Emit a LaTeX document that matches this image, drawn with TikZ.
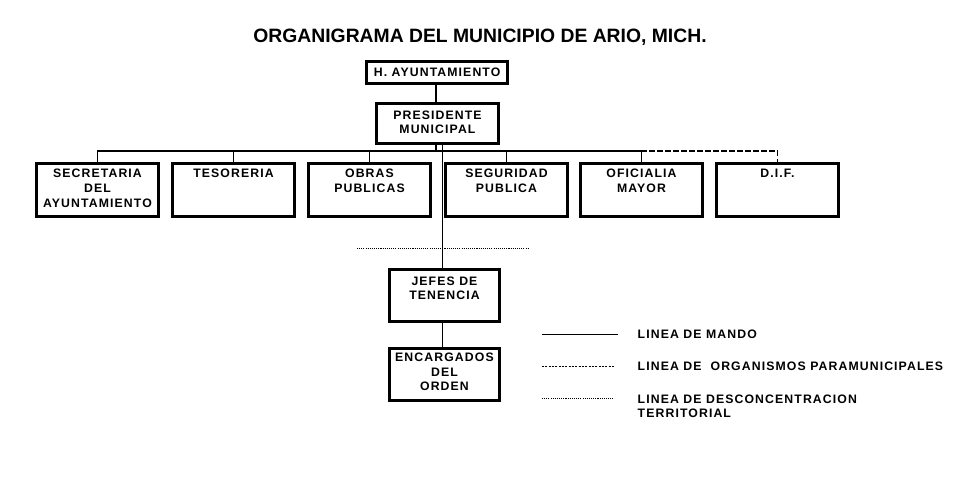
\documentclass[tikz,border=0pt]{standalone}
\usepackage{fontspec}
\setmainfont{Liberation Sans}
\newfontfamily\spaced[LetterSpace=9]{Liberation Sans}
\usetikzlibrary{positioning}

\begin{document}
\begin{tikzpicture}[
    x=0.75pt, y=-0.75pt,
    unit/.style={draw, line width=2.2pt, anchor=north west, inner sep=0pt},
    txt/.style={font=\spaced\bfseries\fontsize{9.2}{11}\selectfont, align=center},
    mando/.style={line width=0.6pt},
    para/.style={line width=1.2pt, dash pattern=on 4pt off 2pt},
    terr/.style={line width=0.6pt, dash pattern=on 0.8pt off 0.8pt},
  ]
  \useasboundingbox (0,0) rectangle (959,479);

  % ---- Title ----
  \node[font=\bfseries\fontsize{14.5}{16}\selectfont] (title) at (480,37)
    {ORGANIGRAMA DEL MUNICIPIO DE ARIO, MICH.};

  % ---- Top ----
  \node[unit, minimum width=106pt, minimum height=16.5pt] (ayto) at (365,60) {};
  \node[txt, anchor=center] (aytot) at (ayto.center) {H. AYUNTAMIENTO};
  \node[unit, minimum width=91.5pt, minimum height=30pt] (pres) at (375,102) {};
  \node[txt, anchor=north] (prest) at ([yshift=-3pt]pres.north) {PRESIDENTE\\MUNICIPAL};
  \draw[line width=1.2pt] (ayto.south -| 436,0) -- (pres.north -| 436,0);

  % ---- Dependencies ----
  \foreach \n/\x/\t in {secr/35/{SECRETARIA\\DEL\\AYUNTAMIENTO}, teso/171/TESORERIA,
      obras/307/{OBRAS\\PUBLICAS}, segu/444/{SEGURIDAD\\PUBLICA},
      ofic/579/{OFICIALIA\\MAYOR}, dif/715/{D.I.F.}} {
    \node[unit, minimum width=91.5pt, minimum height=40pt] (\n) at (\x,162) {};
    \node[txt, anchor=north] (\n t) at ([yshift=-2pt]\n.north) {\t};
  }
  \coordinate (bar) at (0,151);
  \draw[line width=1.2pt] (pres.south -| 436,0) -- (bar -| 436,0);
  \draw[line width=1.2pt] (bar -| secr.north) -- (bar -| ofic.north);
  \foreach \n in {secr,teso,obras,segu,ofic}
    \draw[line width=1.2pt] (bar -| \n.north) -- (\n.north);
  \draw[para] (bar -| ofic.north) -- (bar -| dif.north) -- (dif.north);

  % ---- Territorial ----
  \node[unit, minimum width=82.5pt, minimum height=39pt] (jefes) at (388,268) {};
  \node[txt, anchor=north] (jefest) at ([yshift=-3pt]jefes.north) {JEFES DE\\TENENCIA};
  \node[unit, minimum width=82.5pt, minimum height=39pt] (encar) at (388,347) {};
  \node[txt, anchor=north] (encart) at ([yshift=-1pt]encar.north) {ENCARGADOS\\DEL\\ORDEN};
  \draw[mando] (pres.south -| 442,0) -- (jefes.north -| 442,0);
  \draw[mando] (jefes.south -| 442,0) -- (encar.north -| 442,0);
  \coordinate (dl) at (357,248);
  \coordinate (dr) at (529,248);
  \draw[terr] (dl) -- (dr);

  % ---- Legend ----
  \coordinate (l1a) at (542,334); \coordinate (l1b) at (618,334);
  \coordinate (l2a) at (542,366); \coordinate (l2b) at (614,366);
  \coordinate (l3a) at (542,398); \coordinate (l3b) at (614,398);
  \draw[mando] (l1a) -- (l1b);
  \draw[line width=0.6pt, dash pattern=on 1.5pt off 1pt] (l2a) -- (l2b);
  \draw[terr] (l3a) -- (l3b);
  \node[txt, anchor=west] (k1) at (633,334) {LINEA DE MANDO};
  \node[txt, anchor=west] (k2) at (633,366) {LINEA DE \ ORGANISMOS PARAMUNICIPALES};
  \node[txt, anchor=north west, align=left] (k3) at (633,390) {LINEA DE DESCONCENTRACION\\TERRITORIAL};
\end{tikzpicture}
\end{document}
